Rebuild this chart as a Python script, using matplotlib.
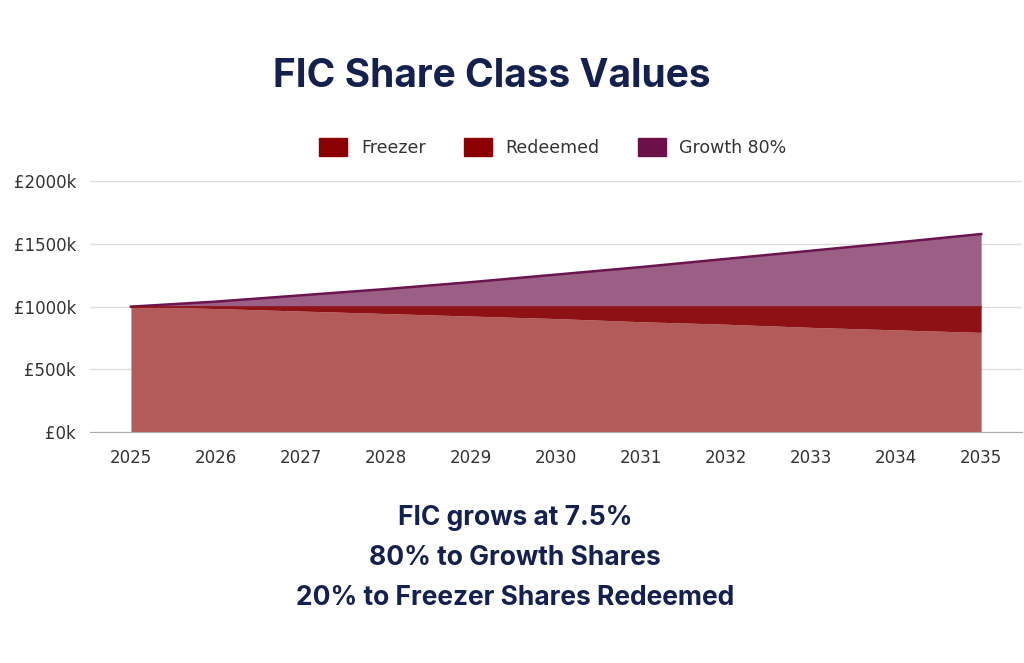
import matplotlib
matplotlib.use("Agg")
import matplotlib.pyplot as plt
from matplotlib.patches import Patch
import numpy as np

years = [2025, 2026, 2027, 2028, 2029, 2030, 2031, 2032, 2033, 2034, 2035]
freezer = [1000, 985, 965, 945, 925, 905, 880, 860, 835, 815, 795]
redeemed = [0, 15, 35, 55, 75, 95, 120, 140, 165, 185, 205]
growth = [0, 40, 90, 140, 195, 255, 315, 380, 445, 510, 578]
ytick_vals = [0, 500, 1000, 1500, 2000]
ytick_labels = ["£0k", "£500k", "£1000k", "£1500k", "£2000k"]

fig = plt.figure(figsize=(10.24, 6.63), dpi=100)
ax = fig.add_axes([0.088, 0.348, 0.91, 0.379])
navy = "#14204e"
f = np.array(freezer); r = np.array(redeemed); g = np.array(growth)
ax.fill_between(years, 0, f, color="#b35a5a", lw=0, zorder=2)
ax.fill_between(years, f, f + r, color="#8e1116", lw=0, zorder=2)
ax.fill_between(years, f + r, f + r + g, color="#9b5f86", lw=0, zorder=2)
ax.plot(years, f + r + g, color="#6b1450", lw=1.8, zorder=3)
ax.plot(years, f + r, color="#8e1116", lw=1.2, zorder=3)
ax.set_xlim(2024.52, 2035.48)
ax.set_ylim(0, 2000)
ax.set_yticks(ytick_vals, ytick_labels)
ax.set_xticks(years, [str(y) for y in years])
ax.grid(axis="y", color="#dddddd", lw=1, zorder=0)
for s in ["top", "right", "left"]:
    ax.spines[s].set_visible(False)
ax.spines["bottom"].set_color("#aaaaaa")
ax.tick_params(length=0, labelsize=12, colors="#333333", pad=10)
ax.tick_params(axis="x", pad=12)

handles = [Patch(color="#8b0000", label="Freezer"), Patch(color="#8b0000", label="Redeemed"),
           Patch(color="#6b1048", label="Growth 80%")]
fig.legend(handles=handles, loc="center", bbox_to_anchor=(0.54, 0.778), ncol=3, frameon=False,
           fontsize=12.5, handlelength=1.6, handleheight=1.3, columnspacing=2.2, labelcolor="#333333")

fig.text(0.48, 0.885, "FIC Share Class Values", ha="center", va="center", fontsize=28,
         fontweight="bold", color=navy, family="Inter")
for i, t in enumerate(["FIC grows at 7.5%", "80% to Growth Shares", "20% to Freezer Shares Redeemed"]):
    fig.text(0.503, 0.218 - i * 0.06, t, ha="center", va="center", fontsize=19,
             fontweight="bold", color=navy, family="Inter")
fig.savefig("out.png", dpi=100)
